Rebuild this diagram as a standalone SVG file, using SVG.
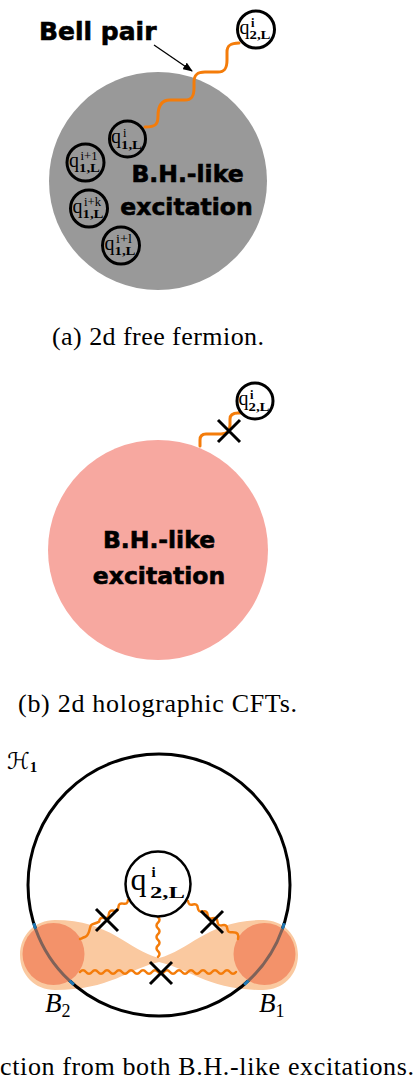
<svg xmlns="http://www.w3.org/2000/svg" width="416" height="1084" viewBox="0 0 416 1084">
<style>
.bh{font-family:"DejaVu Sans",sans-serif;font-weight:bold;fill:#000;stroke:#000;stroke-width:0.6}
.ser{font-family:"Liberation Serif",serif;fill:#000}
.cap{font-family:"Liberation Serif",serif;font-size:26px;fill:#000}
.b{font-weight:bold}
.qc{fill:none;stroke:#000;stroke-width:3}
.qw{fill:#fff;stroke:#000;stroke-width:3}
.wave{fill:none;stroke:#f47c0a;stroke-width:3;stroke-linecap:round;stroke-linejoin:round}
.wave2{fill:none;stroke:#f47c0a;stroke-width:2.5;stroke-linecap:round;stroke-linejoin:round}
.x{stroke:#000;stroke-width:3;fill:none}
</style>
<defs>
<marker id="arr" markerWidth="10" markerHeight="8" refX="9" refY="4" orient="auto" markerUnits="userSpaceOnUse">
<path d="M0,0 L10,4 L0,8 z" fill="#000"/>
</marker>
</defs>

<!-- Panel (a) -->
<g id="bh-a">
<circle cx="158" cy="181" r="109" fill="#999999"/>
<text class="bh" x="187.5" y="182" font-size="23.5" text-anchor="middle">B.H.-like</text>
<text class="bh" x="186.5" y="215" font-size="23.5" text-anchor="middle">excitation</text>
</g>
<text id="bell-label" class="bh" x="39" y="40" font-size="25">Bell pair</text>

<g id="connectors-a">
<line x1="154" y1="45" x2="192" y2="71" stroke="#000" stroke-width="1.3" marker-end="url(#arr)"/>
<path class="wave" d="M145,127 C156,127 158,124 158,116 C158,108 160,100 170,100 L185,100 C192,100 194,96 194,88 L194,82 C194,75 197,72 205,72 L218,72 C225,72 227,68 227,60 L227,52 C227,45 231,43 239,43"/>
</g>

<g id="q1i">
<circle class="qc" cx="127.5" cy="139" r="18"/>
<text class="ser" x="111" y="143" font-size="20">q</text>
<text class="ser" x="123" y="136.5" font-size="12.5">i</text>
<text class="ser b" x="121" y="148.5" font-size="12" textLength="21" lengthAdjust="spacingAndGlyphs">1,L</text>
</g>
<g id="q1i1">
<circle class="qc" cx="85.5" cy="162.5" r="18.5"/>
<text class="ser" x="69" y="166.5" font-size="20">q</text>
<text class="ser" x="80.5" y="160" font-size="12.5" textLength="17" lengthAdjust="spacingAndGlyphs">i+1</text>
<text class="ser b" x="79" y="172" font-size="12" textLength="21" lengthAdjust="spacingAndGlyphs">1,L</text>
</g>
<g id="q1ik">
<circle class="qc" cx="89" cy="208.5" r="18.5"/>
<text class="ser" x="72.5" y="212.5" font-size="20">q</text>
<text class="ser" x="84" y="206" font-size="12.5" textLength="17" lengthAdjust="spacingAndGlyphs">i+k</text>
<text class="ser b" x="82.5" y="218" font-size="12" textLength="21" lengthAdjust="spacingAndGlyphs">1,L</text>
</g>
<g id="q1il">
<circle class="qc" cx="121" cy="245.5" r="18.5"/>
<text class="ser" x="104.5" y="249.5" font-size="20">q</text>
<text class="ser" x="116" y="243" font-size="12.5" textLength="16" lengthAdjust="spacingAndGlyphs">i+l</text>
<text class="ser b" x="114.5" y="255" font-size="12" textLength="21" lengthAdjust="spacingAndGlyphs">1,L</text>
</g>
<g id="q2i-a">
<circle class="qw" cx="256" cy="29.5" r="18.5"/>
<text class="ser" x="239.5" y="33.5" font-size="20">q</text>
<text class="ser b" x="251" y="27" font-size="12.5">i</text>
<text class="ser b" x="249.5" y="39" font-size="12" textLength="21" lengthAdjust="spacingAndGlyphs">2,L</text>
</g>

<text id="cap-a" class="cap" x="52" y="345" textLength="212" lengthAdjust="spacing">(a) 2d free fermion.</text>

<!-- Panel (b) -->
<g id="bh-b">
<circle cx="158" cy="550" r="110" fill="#f7a8a0"/>
<text class="bh" x="159" y="548" font-size="23.5" text-anchor="middle">B.H.-like</text>
<text class="bh" x="159" y="584" font-size="23.5" text-anchor="middle">excitation</text>
</g>
<g id="connectors-b">
<path class="wave" d="M200,446 L200,440 C200,436 202,434 206,434 L221,434 C227,434 230,431 230,425 L230,419 C230,415 233,413 238,413 L240,413"/>
<path class="x" d="M218,420 L240,442 M240,420 L218,442"/>
</g>
<g id="q2i-b">
<circle class="qw" cx="255" cy="401" r="18"/>
<text class="ser" x="238.5" y="405" font-size="20">q</text>
<text class="ser b" x="250" y="398.5" font-size="12.5">i</text>
<text class="ser b" x="248.5" y="410.5" font-size="12" textLength="21" lengthAdjust="spacingAndGlyphs">2,L</text>
</g>

<text id="cap-b" class="cap" x="18" y="712" textLength="279" lengthAdjust="spacing">(b) 2d holographic CFTs.</text>

<!-- Panel (c) -->
<text id="h1" x="7" y="769" font-family="DejaVu Serif, DejaVu Sans, serif" font-size="23" font-style="italic">ℋ<tspan font-family="Liberation Serif, serif" font-style="normal" font-weight="bold" font-size="15" dy="3">1</tspan></text>

<g id="band">
<path fill="#fac9a0" d="M159,958 C128,950 110,920 55,920 C35,920 20,935 20,955 C20,975 35,990 55,990 C110,990 128,969 159,962 Z M159,958 C190,950 208,920 263,920 C283,920 298,935 298,955 C298,975 283,990 263,990 C208,990 190,969 159,962 Z"/>
</g>
<g id="H1-circle">
<circle cx="159" cy="885" r="131" fill="none" stroke="#000" stroke-width="3"/>
</g>
<g id="B2">
<circle cx="53.5" cy="954" r="31" fill="#f3926a"/>
<path d="M35.5,928.7 A131,131 0 0 0 69.5,980.7" fill="none" stroke="#7f6259" stroke-width="3"/>
<path d="M33.7,923.3 A131,131 0 0 0 35.5,928.7 M69.5,980.7 A131,131 0 0 0 73.9,984.6" fill="none" stroke="#1f77b4" stroke-width="3"/>
<text class="ser" x="45" y="1012" font-size="27" font-style="italic">B<tspan font-style="normal" font-size="18" dy="5">2</tspan></text>
</g>
<g id="B1">
<circle cx="264.5" cy="954" r="31" fill="#f3926a"/>
<path d="M282.5,928.7 A131,131 0 0 1 248.5,980.7" fill="none" stroke="#7f6259" stroke-width="3"/>
<path d="M284.3,923.3 A131,131 0 0 1 282.5,928.7 M248.5,980.7 A131,131 0 0 1 244.1,984.6" fill="none" stroke="#1f77b4" stroke-width="3"/>
<text class="ser" x="259" y="1012" font-size="27" font-style="italic">B<tspan font-style="normal" font-size="18" dy="5">1</tspan></text>
</g>

<g id="connectors-c">
<path class="wave2" d="M128,900 q-0.2,4.6 -4.8,3.6 t-4.8,3.6 t-4.8,3.6 t-4.8,3.6 t-4.8,3.6 t-4.8,3.6 C93,925 91,923 90,928 S88,936 85,937 S81,939 80,939"/>
<path class="wave2" d="M188,901 q0.4,4.6 4.91,3.46 t4.91,3.46 t4.91,3.46 t4.91,3.46 t4.91,3.46 t4.91,3.46 t4.91,3.46 t4.91,3.46 t4.91,3.46 C238,932 239,935 238,939"/>
<path class="wave2" d="M158,917 q3,2.85 0,5.7 t0,5.7 t0,5.7 t0,5.7 t0,5.7 t0,5.7 t0,5.7"/>
<path class="wave2" d="M80,972 q3,-3.5 6,0 t6,0 t6,0 t6,0 t6,0 t6,0 t6,0 t6,0 t6,0 t6,0 t6,0 t6,0 t6,0 t6,0 t6,0 t6,0 t6,0 t6,0 t6,0 t6,0 t6,0 t6,0 t6,0 t6,0 t6,0 t6,0"/>
<path class="x" d="M96,909 L118,931 M118,909 L96,931"/>
<path class="x" d="M201,911 L223,933 M223,911 L201,933" stroke-width="3.5"/>
<path class="x" d="M150,962 L172,984 M172,962 L150,984"/>
</g>

<g id="q2i-c">
<circle cx="158" cy="884" r="32.5" fill="#fff" stroke="#000" stroke-width="2.5"/>
<text class="ser" x="130.5" y="889.5" font-size="32">q</text>
<text class="ser b" x="151.5" y="877" font-size="15">i</text>
<text class="ser b" x="150" y="898" font-size="17.5" textLength="35" lengthAdjust="spacingAndGlyphs">2,L</text>
</g>

<text id="cap-c" class="cap" x="0" y="1075" textLength="414" lengthAdjust="spacing">ction from both B.H.-like excitations.</text>
</svg>
